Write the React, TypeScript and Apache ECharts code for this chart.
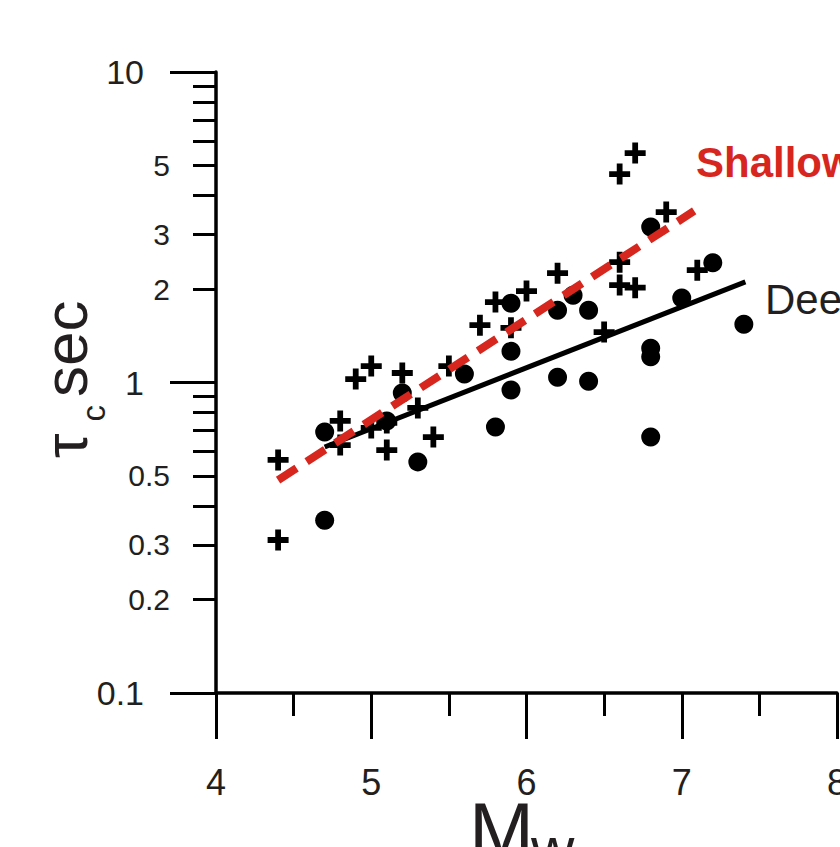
import React, { useEffect, useRef } from "react";
import * as echarts from "echarts";

// Shallow events (crosses)
const crossMw = [4.4, 4.4, 4.8, 4.8, 4.9, 5.0, 5.0, 5.1, 5.1, 5.2, 5.3, 5.4, 5.5, 5.7, 5.8, 5.9, 6.0, 6.2, 6.5, 6.6, 6.7, 6.6, 6.6, 6.7, 6.9, 7.1];
const crossTau = [0.563, 0.311, 0.752, 0.629, 1.026, 1.13, 0.714, 0.741, 0.606, 1.073, 0.828, 0.667, 1.13, 1.53, 1.816, 1.5, 1.97, 2.25, 1.454, 4.69, 5.48, 2.44, 2.06, 2.02, 3.54, 2.3];

// Deep events (dots)
const dotMw = [4.7, 4.7, 5.1, 5.2, 5.3, 5.6, 5.8, 5.9, 5.9, 5.9, 6.2, 6.2, 6.3, 6.4, 6.4, 6.8, 6.8, 6.8, 6.8, 7.0, 7.2, 7.4];
const dotTau = [0.693, 0.36, 0.752, 0.925, 0.555, 1.065, 0.719, 1.8, 1.26, 0.946, 1.71, 1.04, 1.91, 1.71, 1.01, 3.17, 1.29, 1.21, 0.668, 1.87, 2.43, 1.54];

// Regression lines
const shallowFitMw = [4.4, 7.08];
const shallowFitTau = [0.485, 3.57];
const deepFitMw = [4.7, 7.41];
const deepFitTau = [0.62, 2.11];

// Axis ticks / labels
const xMin = 4;
const xMax = 8;
const yMin = 0.1;
const yMax = 10;
const yMajorValues = [0.1, 1, 10];
const yMinorTickValues = [0.2, 0.3, 0.4, 0.5, 0.6, 0.7, 0.8, 0.9, 2, 3, 4, 5, 6, 7, 8, 9];
const yMinorLabelValues = [0.2, 0.3, 0.5, 2, 3, 5];

const FONT = "'Liberation Sans', Arial, Helvetica, sans-serif";
const INK = "#231f20";
const RED = "#d7261e";

const CROSS = "path://M7.25,0H12.75V7.25H20V12.75H12.75V20H7.25V12.75H0V7.25H7.25Z";

function fmtLog(v: number): string {
  const raw = Math.pow(10, v);
  const all = [...yMajorValues, ...yMinorLabelValues];
  let best = all[0];
  for (const a of all) if (Math.abs(a - raw) < Math.abs(best - raw)) best = a;
  return String(best);
}

export default function App() {
  const ref = useRef<HTMLDivElement>(null);
  useEffect(() => {
    if (!ref.current) return;
    const chart = echarts.init(ref.current, undefined, { renderer: "svg" });
    const zip = (a: number[], b: number[]) => a.map((v, i) => [v, b[i]]);
    const tickAxisBase = {
      type: "value" as const,
      min: Math.log10(yMin),
      max: Math.log10(yMax),
      position: "left" as const,
      axisLine: { show: false },
      splitLine: { show: false },
    };
    chart.setOption({
      animation: false,
      backgroundColor: "#ffffff",
      grid: { left: 216, top: 72, width: 621, height: 621, containLabel: false, outerBoundsMode: "none" },
      xAxis: {
        type: "value",
        min: xMin,
        max: xMax,
        interval: 1,
        axisLine: { show: true, onZero: false, lineStyle: { color: "#000", width: 3.5 } },
        axisTick: { show: true, length: 46, lineStyle: { color: "#000", width: 3 } },
        minorTick: { show: true, splitNumber: 2, length: 23, lineStyle: { color: "#000", width: 3 } },
        axisLabel: { fontSize: 36, fontFamily: FONT, color: INK, margin: 71 },
        splitLine: { show: false },
      },
      yAxis: [
        {
          type: "log",
          logBase: 10,
          min: yMin,
          max: yMax,
          position: "left",
          axisLine: { show: true, onZero: false, lineStyle: { color: "#000", width: 3.5 } },
          axisTick: { show: false },
          axisLabel: { show: false },
          splitLine: { show: false },
        },
        {
          ...tickAxisBase,
          axisTick: {
            show: true,
            length: 23,
            customValues: yMinorTickValues.map((v) => Math.log10(v)),
            lineStyle: { color: "#000", width: 3 },
          },
          axisLabel: {
            show: true,
            customValues: yMinorLabelValues.map((v) => Math.log10(v)),
            formatter: (v: number) => fmtLog(v),
            fontSize: 30,
            fontFamily: FONT,
            color: INK,
            margin: 46,
          },
        },
        {
          ...tickAxisBase,
          axisTick: {
            show: true,
            length: 46,
            customValues: yMajorValues.map((v) => Math.log10(v)),
            lineStyle: { color: "#000", width: 3 },
          },
          axisLabel: {
            show: true,
            customValues: yMajorValues.map((v) => Math.log10(v)),
            formatter: (v: number) => fmtLog(v),
            fontSize: 34,
            fontFamily: FONT,
            color: INK,
            margin: 72,
          },
        },
      ],
      series: [
        {
          name: "Deep",
          type: "scatter",
          yAxisIndex: 0,
          symbol: "circle",
          symbolSize: 19,
          itemStyle: { color: "#000", opacity: 1 },
          data: zip(dotMw, dotTau),
        },
        {
          name: "Shallow",
          type: "scatter",
          yAxisIndex: 0,
          symbol: CROSS,
          symbolSize: 21,
          itemStyle: { color: "#000", opacity: 1 },
          data: zip(crossMw, crossTau),
        },
        {
          name: "Deep fit",
          type: "line",
          yAxisIndex: 0,
          showSymbol: false,
          symbol: "none",
          lineStyle: { color: "#000", width: 5, cap: "butt" },
          data: zip(deepFitMw, deepFitTau),
        },
        {
          name: "Shallow fit",
          type: "line",
          yAxisIndex: 0,
          showSymbol: false,
          symbol: "none",
          lineStyle: { color: RED, width: 8, type: [22, 12], cap: "butt" },
          data: zip(shallowFitMw, shallowFitTau),
        },
      ],
      graphic: [
        {
          type: "text",
          x: 696,
          y: 162,
          style: { text: "Shallow", fill: RED, fontSize: 42, fontWeight: "bold", fontFamily: FONT, align: "left", verticalAlign: "middle" },
        },
        {
          type: "text",
          x: 765,
          y: 299,
          style: { text: "Deep", fill: INK, fontSize: 42, fontFamily: FONT, align: "left", verticalAlign: "middle" },
        },
        {
          type: "text",
          x: 469,
          y: 830,
          style: { text: "M", fill: INK, fontSize: 78, fontFamily: FONT, align: "left", verticalAlign: "middle" },
        },
        {
          type: "text",
          x: 531,
          y: 848,
          style: { text: "w", fill: INK, fontSize: 60, fontFamily: FONT, align: "left", verticalAlign: "middle" },
        },
        {
          type: "group",
          x: 87,
          y: 457,
          rotation: Math.PI / 2,
          children: [
            {
              type: "text",
              x: -1,
              y: -21.5,
              style: { text: "τ", fill: INK, fontSize: 62, fontFamily: FONT, align: "left", verticalAlign: "middle" },
            },
            {
              type: "text",
              x: 35.5,
              y: 6.6,
              style: { text: "c", fill: INK, fontSize: 33, fontFamily: FONT, align: "left", verticalAlign: "middle" },
            },
            {
              type: "text",
              x: 60,
              y: -21.5,
              style: { text: "sec", fill: INK, fontSize: 62, fontFamily: FONT, align: "left", verticalAlign: "middle" },
            },
          ],
        },
      ],
    });
    return () => chart.dispose();
  }, []);
  return (
    <div
      ref={ref}
      style={{ position: "absolute", left: 0, top: 0, width: 840, height: 847, background: "#fff" }}
    />
  );
}
